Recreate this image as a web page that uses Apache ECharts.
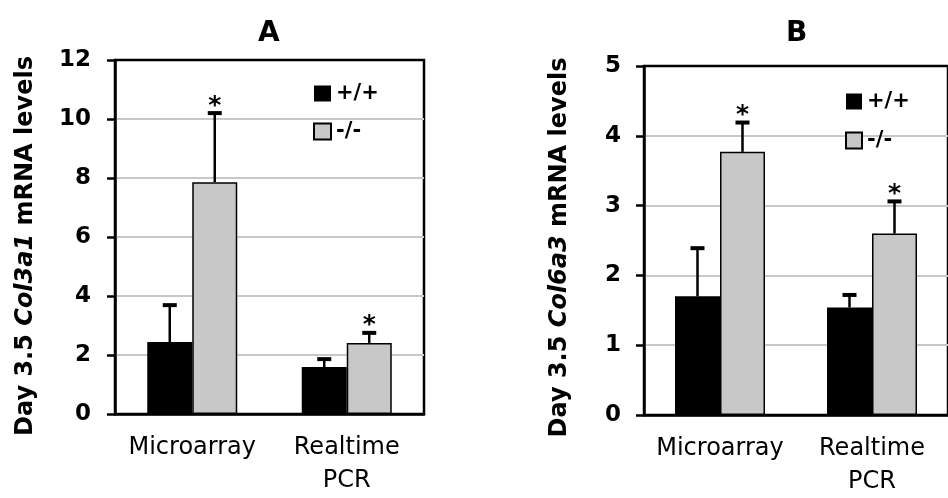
<!DOCTYPE html>
<html>
<head>
<meta charset="utf-8">
<script src="https://cdn.jsdelivr.net/npm/echarts@6/dist/echarts.min.js"></script>
<style>
html,body{margin:0;padding:0;background:#fff;}
#c{width:948px;height:498px;}
</style>
</head>
<body>
<div id="c"></div>
<script>
// ---- data ----
const categories = ['Microarray', 'Realtime\nPCR'];
const genotypes = ['+/+', '-/-'];
const panelTitles = ['A', 'B'];
const geneNames = ['Col3a1', 'Col6a3'];

// Panel A (Col3a1)
const aWt = [2.44, 1.59];
const aWtErr = [1.25, 0.27];
const aWtSig = [0, 0];
const aKo = [7.86, 2.41];
const aKoErr = [2.34, 0.34];
const aKoSig = [1, 1];
const aYMin = 0, aYMax = 12, aYStep = 2;

// Panel B (Col6a3)
const bWt = [1.70, 1.54];
const bWtErr = [0.69, 0.18];
const bWtSig = [0, 0];
const bKo = [3.77, 2.60];
const bKoErr = [0.42, 0.46];
const bKoSig = [1, 1];
const bYMin = 0, bYMax = 5, bYStep = 1;

// ---- styling ----
const FONT = 'DejaVu Sans';
const BAR_W = 45;
const colors = ['#000000', '#c8c8c8'];

function errData(vals, errs, sig) {
  return vals.map((v, i) => [i, v, errs[i], sig[i]]);
}

function errSeries(name, idx, vals, errs, sig, offset) {
  return {
    type: 'custom',
    name: name,
    xAxisIndex: idx, yAxisIndex: idx,
    z: 5,
    data: errData(vals, errs, sig),
    renderItem: function (params, api) {
      const cat = api.value(0), v = api.value(1), e = api.value(2), s = api.value(3);
      const p0 = api.coord([cat, v]);
      const p1 = api.coord([cat, v + e]);
      const x = p0[0] + offset;
      const children = [
        {type: 'line', shape: {x1: x, y1: p0[1], x2: x, y2: p1[1]}, style: {stroke: '#000', lineWidth: 2.5}},
        {type: 'line', shape: {x1: x - 7, y1: p1[1], x2: x + 7, y2: p1[1]}, style: {stroke: '#000', lineWidth: 4}}
      ];
      if (s) {
        children.push({type: 'text', style: {text: '*', x: x, y: p1[1] - 7, align: 'center', verticalAlign: 'middle', textAlign: 'center', textVerticalAlign: 'middle', font: 'bold 25px "' + FONT + '"', fill: '#000'}});
      }
      return {type: 'group', children: children};
    }
  };
}

function barSeries(name, idx, vals, color) {
  return {
    type: 'bar', name: name, xAxisIndex: idx, yAxisIndex: idx,
    data: vals, barWidth: BAR_W, barGap: '0%',
    itemStyle: {color: color, borderColor: '#000', borderWidth: color === '#000000' ? 0 : 1.5},
    emphasis: {disabled: true}
  };
}

function yAxis(idx, min, max, step, gene, gap, margin, shift) {
  return {
    type: 'value', gridIndex: idx, min: min, max: max, interval: step,
    name: '{b|Day 3.5 }{i|' + gene + '}{b| mRNA levels}',
    nameLocation: 'middle', nameRotate: 90, nameGap: gap,
    nameTextStyle: {padding: [0, shift, 0, 0], rich: {
      b: {fontFamily: FONT, fontWeight: 'bold', fontSize: 24, color: '#000'},
      i: {fontFamily: FONT, fontWeight: 'bold', fontStyle: 'italic', fontSize: 24, color: '#000'}
    }},
    axisLine: {show: true, lineStyle: {color: '#000', width: 2.5}},
    axisTick: {show: true, length: 8, lineStyle: {color: '#000', width: 2.5}},
    axisLabel: {fontFamily: FONT, fontWeight: 'bold', fontSize: 23, color: '#000', margin: margin},
    splitLine: {show: true, showMinLine: false, showMaxLine: false, lineStyle: {color: '#c8c8c8', width: 2}}
  };
}

function xAxis(idx) {
  return {
    type: 'category', gridIndex: idx, data: categories,
    axisLine: {show: true, lineStyle: {color: '#000', width: 2.5}},
    axisTick: {show: false},
    axisLabel: {fontFamily: FONT, fontSize: 24, color: '#000', margin: 17, lineHeight: 33, interval: 0}
  };
}

const chart = echarts.init(document.getElementById('c'), null, {renderer: 'canvas'});
chart.setOption({
  backgroundColor: '#fff',
  animation: false,
  color: colors,
  title: [
    {text: panelTitles[0], left: 258, top: 20, padding: 0, textStyle: {fontFamily: FONT, fontWeight: 'bold', fontSize: 28, color: '#000'}},
    {text: panelTitles[1], left: 786, top: 20, padding: 0, textStyle: {fontFamily: FONT, fontWeight: 'bold', fontSize: 28, color: '#000'}}
  ],
  legend: [
    {data: genotypes, orient: 'vertical', left: 313, top: 83, padding: 0, itemWidth: 17, itemHeight: 16, itemGap: 17,
     icon: 'rect', selectedMode: false, textStyle: {fontFamily: FONT, fontWeight: 'bold', fontSize: 21, color: '#000', lineHeight: 16}},
    {data: genotypes, orient: 'vertical', left: 845, top: 91, padding: 0, itemWidth: 16, itemHeight: 16, itemGap: 18,
     icon: 'rect', selectedMode: false, textStyle: {fontFamily: FONT, fontWeight: 'bold', fontSize: 21, color: '#000', lineHeight: 16}}
  ],
  grid: [
    {left: 115, top: 60, width: 309, height: 354, show: true, borderColor: '#000', borderWidth: 2.5, backgroundColor: 'transparent'},
    {left: 644, top: 66, width: 316, height: 358, show: true, borderColor: '#000', borderWidth: 2.5, backgroundColor: 'transparent'}
  ],
  xAxis: [xAxis(0), xAxis(1)],
  yAxis: [yAxis(0, aYMin, aYMax, aYStep, geneNames[0], 77, 24, 18), yAxis(1, bYMin, bYMax, bYStep, geneNames[1], 72, 23, 14)],
  series: [
    barSeries(genotypes[0], 0, aWt, colors[0]),
    barSeries(genotypes[1], 0, aKo, colors[1]),
    errSeries('errA0', 0, aWt, aWtErr, aWtSig, -BAR_W / 2),
    errSeries('errA1', 0, aKo, aKoErr, aKoSig, BAR_W / 2),
    barSeries(genotypes[0], 1, bWt, colors[0]),
    barSeries(genotypes[1], 1, bKo, colors[1]),
    errSeries('errB0', 1, bWt, bWtErr, bWtSig, -BAR_W / 2),
    errSeries('errB1', 1, bKo, bKoErr, bKoSig, BAR_W / 2)
  ]
});
</script>
</body>
</html>
